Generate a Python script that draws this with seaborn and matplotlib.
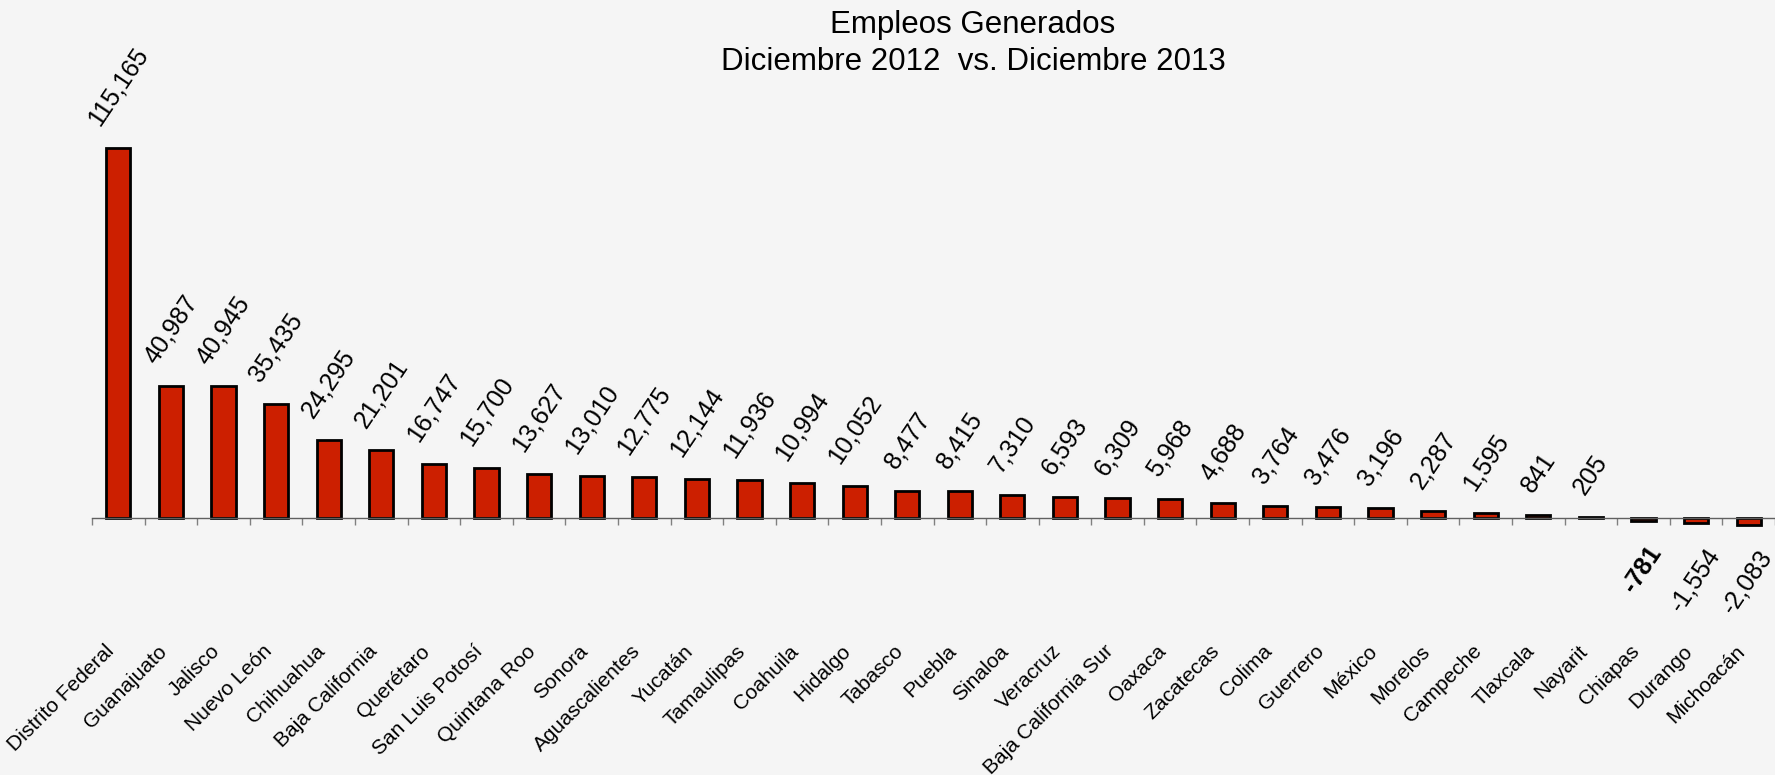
import numpy as np
import pandas as pd
import matplotlib
matplotlib.use("Agg")
import matplotlib.pyplot as plt
import seaborn as sns

# =========================
# DATA
# =========================

estados = [
    "Distrito Federal", "Guanajuato", "Jalisco", "Nuevo León", "Chihuahua",
    "Baja California", "Querétaro", "San Luis Potosí", "Quintana Roo", "Sonora",
    "Aguascalientes", "Yucatán", "Tamaulipas", "Coahuila", "Hidalgo",
    "Tabasco", "Puebla", "Sinaloa", "Veracruz", "Baja California Sur",
    "Oaxaca", "Zacatecas", "Colima", "Guerrero", "México",
    "Morelos", "Campeche", "Tlaxcala", "Nayarit", "Chiapas",
    "Durango", "Michoacán",
]

empleos = [
    115165, 40987, 40945, 35435, 24295,
    21201, 16747, 15700, 13627, 13010,
    12775, 12144, 11936, 10994, 10052,
    8477, 8415, 7310, 6593, 6309,
    5968, 4688, 3764, 3476, 3196,
    2287, 1595, 841, 205, -781,
    -1554, -2083,
]

titulo = "Empleos Generados"
subtitulo = "Diciembre 2012  vs. Diciembre 2013"

df = pd.DataFrame({"estado": estados, "empleos": empleos})

# =========================
# STYLE
# =========================

sns.set_style("white")
plt.rcParams["font.family"] = ["Liberation Sans", "DejaVu Sans"]
plt.rcParams["text.color"] = "black"
plt.rcParams["xtick.labelcolor"] = "black"

BG = "#F5F5F5"
BAR = "#CC1F00"

W, H = 1775, 775
fig = plt.figure(figsize=(W / 100, H / 100), dpi=100, facecolor=BG)

# axes placed in pixels: zero line at y=518, x from 92 to right edge
y_lo, y_hi = -10000, 125000
px_per_unit = 370 / 115165
zero_px = 518
top_px = zero_px - y_hi * px_per_unit
bot_px = zero_px - y_lo * px_per_unit
ax = fig.add_axes([92 / W, 1 - bot_px / H, (W - 92) / W, (bot_px - top_px) / H])
ax.set_facecolor(BG)

# =========================
# BARS
# =========================

sns.barplot(
    data=df,
    x="estado",
    y="empleos",
    color=BAR,
    saturation=1,
    width=0.46,
    edgecolor="black",
    linewidth=2,
    ax=ax,
)

ax.set_xlim(-0.5, len(estados) - 0.5)
ax.set_ylim(y_lo, y_hi)

# value labels
for i, v in enumerate(empleos):
    txt = f"{v:,}"
    if v >= 0:
        ax.annotate(txt, xy=(i, v), xytext=(0, 13), textcoords="offset points",
                    rotation=56, ha="center", va="bottom", fontsize=18)
    else:
        bold = "bold" if estados[i] == "Chiapas" else "normal"
        ax.annotate(txt, xy=(i, v), xytext=(-1, -15), textcoords="offset points",
                    rotation=56, ha="center", va="top", fontsize=18,
                    fontweight=bold)

# =========================
# AXES
# =========================

for s in ["top", "right", "left"]:
    ax.spines[s].set_visible(False)
ax.spines["bottom"].set_position(("data", 0))
ax.spines["bottom"].set_color("#606060")
ax.spines["bottom"].set_linewidth(1)

ax.set_yticks([])
ax.set_xlabel("")
ax.set_ylabel("")

ax.set_xticks(range(len(estados)))
ax.set_xticklabels(estados, rotation=45, ha="right", fontsize=15)
ax.set_xticks(np.arange(-0.5, len(estados), 1), minor=True)
ax.tick_params(axis="x", which="major", length=0, pad=89)
ax.tick_params(axis="x", which="minor", length=5, width=1, color="#808080",
               direction="out", bottom=True)

# =========================
# TITLE
# =========================

fig.text(973 / W, 1 - 25 / H, titulo, ha="center", va="center", fontsize=22.5)
fig.text(973 / W, 1 - 62 / H, subtitulo, ha="center", va="center", fontsize=22.5)

plt.savefig("out.png", dpi=100, facecolor=BG)
